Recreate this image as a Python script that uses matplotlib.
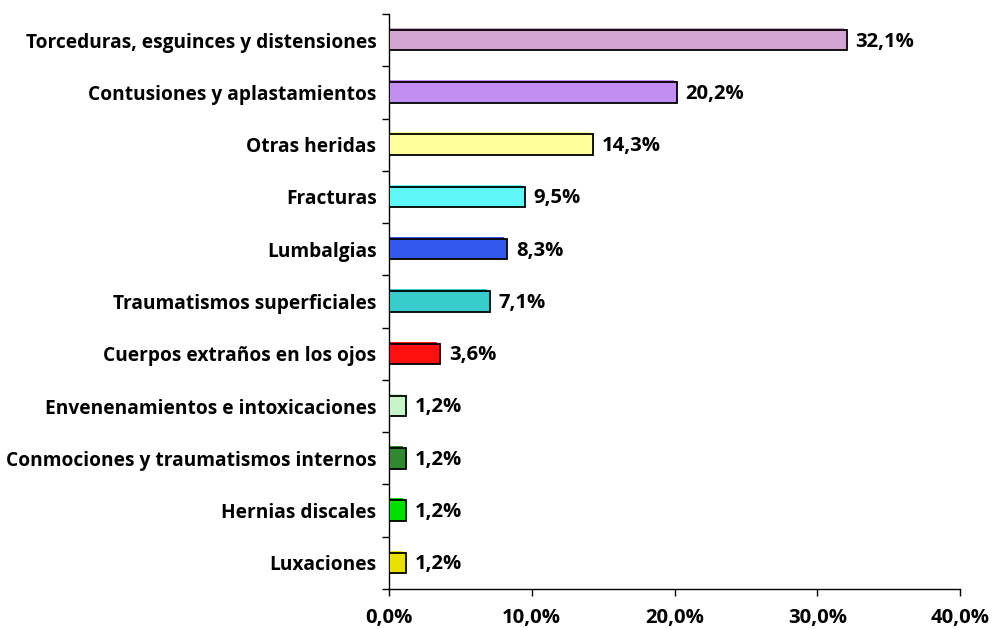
import matplotlib
matplotlib.use("Agg")
import matplotlib.pyplot as plt
import matplotlib.transforms as mtransforms
from matplotlib.ticker import FuncFormatter, FixedLocator
import numpy as np

categories = [
    "Torceduras, esguinces y distensiones",
    "Contusiones y aplastamientos",
    "Otras heridas",
    "Fracturas",
    "Lumbalgias",
    "Traumatismos superficiales",
    "Cuerpos extraños en los ojos",
    "Envenenamientos e intoxicaciones",
    "Conmociones y traumatismos internos",
    "Hernias discales",
    "Luxaciones",
]
values = [32.1, 20.2, 14.3, 9.5, 8.3, 7.1, 3.6, 1.2, 1.2, 1.2, 1.2]
value_labels = ["32,1%", "20,2%", "14,3%", "9,5%", "8,3%", "7,1%", "3,6%",
                "1,2%", "1,2%", "1,2%", "1,2%"]
colors = ["#D3A5D3", "#C28EF2", "#FFFF99", "#5FF8F8", "#3358F0", "#38CBCB",
          "#FF1010", "#C8F5C8", "#2F8A2F", "#00E000", "#E8E000"]
x_ticks = [0, 10, 20, 30, 40]

plt.rcParams['font.family'] = ['Open Sans', 'DejaVu Sans']
plt.rcParams['font.weight'] = 'bold'
FS_CAT = 13.8
FS_NUM = 14.6

fig = plt.figure(figsize=(9.92, 6.29), dpi=100)
ax = fig.add_axes([389/992, 1-589/629, (960-389)/992, (589-14)/629])

n = len(categories)
y = np.arange(n)
h = 0.39

shadow = mtransforms.offset_copy(ax.transData, fig=fig, x=-3, y=2, units='dots')
ax.barh(y, values, height=h, color=colors, edgecolor='none', transform=shadow, zorder=2)
ax.barh(y, values, height=h, color=colors, edgecolor='black', linewidth=1.3, zorder=3)

for yi, v, lab in zip(y, values, value_labels):
    ax.annotate(lab, (v, yi), xytext=(6, -1), textcoords='offset points',
                va='center', ha='left', fontsize=FS_NUM, fontweight='bold')

ax.set_xlim(0, 40)
ax.set_ylim(n - 0.5, -0.5)
ax.xaxis.set_major_locator(FixedLocator(x_ticks))
ax.xaxis.set_major_formatter(FuncFormatter(lambda v, p: f"{v:.1f}%".replace(".", ",")))
ax.set_yticks(y)
ax.set_yticklabels(categories)
ax.set_yticks(np.arange(n + 1) - 0.5, minor=True)
ax.tick_params(axis='y', which='major', length=0, pad=9, labelsize=FS_CAT)
ax.tick_params(axis='y', which='minor', length=5, width=1, direction='out')
ax.tick_params(axis='x', length=5, width=1, direction='out', labelsize=FS_NUM, pad=9)
for lab in ax.get_xticklabels() + ax.get_yticklabels():
    lab.set_fontweight('bold')
ax.spines['top'].set_visible(False)
ax.spines['right'].set_visible(False)
ax.spines['left'].set_linewidth(1)
ax.spines['bottom'].set_linewidth(1)

fig.savefig("out.png", dpi=100)
